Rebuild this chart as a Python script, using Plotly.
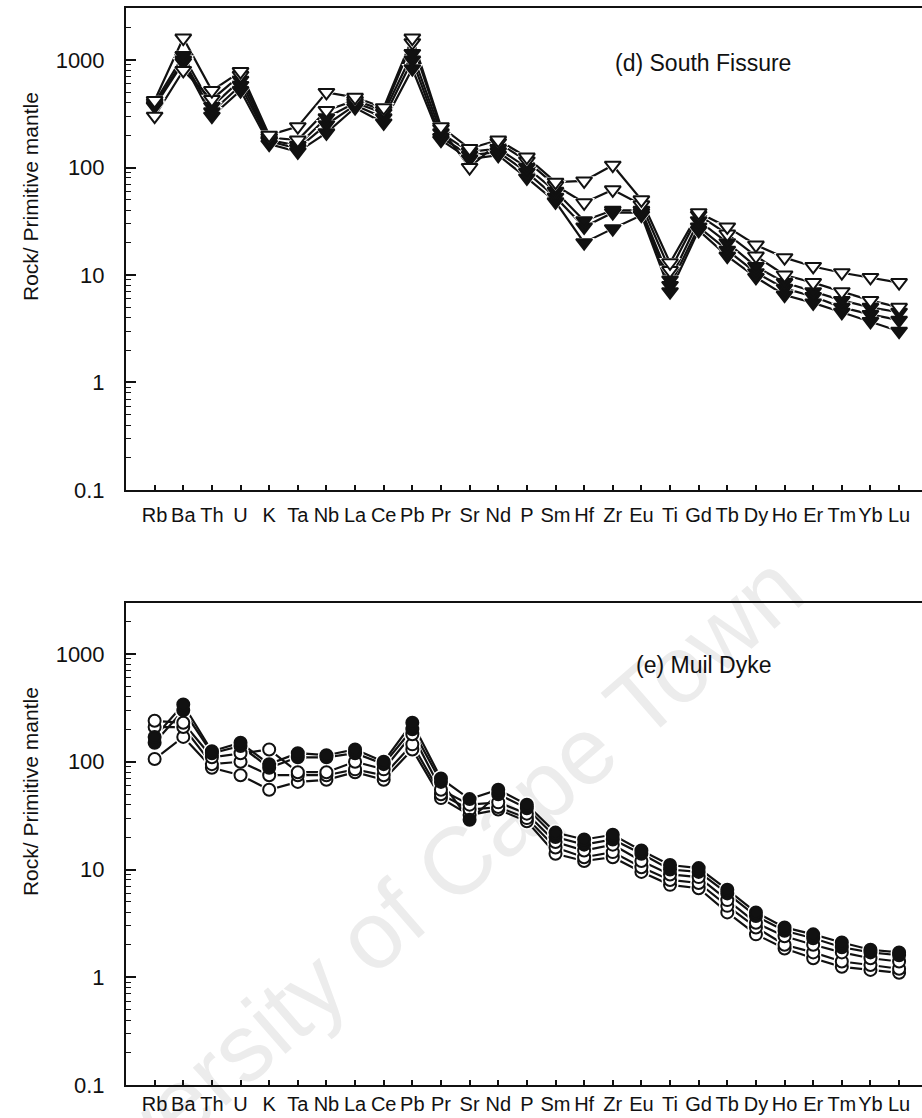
import plotly.graph_objects as go

elements = ["Rb", "Ba", "Th", "U", "K", "Ta", "Nb", "La", "Ce", "Pb", "Pr", "Sr", "Nd", "P", "Sm",
            "Hf", "Zr", "Eu", "Ti", "Gd", "Tb", "Dy", "Ho", "Er", "Tm", "Yb", "Lu"]
xpos = list(range(1, len(elements) + 1))

# (d) South Fissure  -- open triangles
sf_jjg3150 = [420, 1600, 520, 780, 200, 240, 500, 450, 360, 1600, 240, 150, 180, 125, 73,
              75, 105, 50, 13, 38, 28, 19, 14.5, 12, 10.5, 9.5, 8.5]
sf_open2 = [300, 800, 430, 720, 190, 180, 340, 420, 340, 1450, 230, 100, 170, 115, 68,
            47, 62, 45, 11, 36, 24, 15, 10, 8.5, 7, 5.8, 5]
# filled triangles
sf_fill1 = [400, 1100, 370, 650, 180, 160, 290, 400, 320, 1150, 210, 140, 150, 100, 60,
            32, 40, 40, 9, 32, 20, 12, 8.5, 7, 5.8, 5, 4.5]
sf_fill2 = [380, 1000, 330, 580, 175, 150, 250, 380, 290, 1000, 190, 130, 140, 90, 53,
            28, 38, 38, 8, 28, 17, 10.5, 7.5, 6.3, 5, 4.3, 3.8]
sf_fill3 = [370, 950, 300, 520, 165, 140, 210, 360, 260, 830, 180, 120, 130, 80, 48,
            20, 27, 36, 7, 26, 15, 9.5, 6.5, 5.5, 4.5, 3.7, 3.0]

# (e) Muil Dyke -- filled circles
md_fill1 = [170, 340, 125, 150, 95, 120, 115, 130, 100, 230, 70, 45, 55, 40, 22,
            19, 21, 15, 11, 10.3, 6.5, 4.0, 2.9, 2.5, 2.1, 1.8, 1.7]
md_fill2 = [150, 300, 120, 140, 88, 110, 110, 120, 95, 200, 65, 29, 50, 37, 20,
            17, 19, 14, 10, 9.5, 6.0, 3.7, 2.7, 2.3, 1.9, 1.7, 1.6]
# open circles
md_open1 = [240, 230, 110, 120, 130, 80, 80, 100, 85, 180, 55, 40, 42, 33, 18,
            15, 17, 12, 9, 8.5, 5.2, 3.2, 2.4, 2.0, 1.7, 1.5, 1.4]
md_open2 = [210, 210, 95, 100, 75, 75, 75, 85, 75, 145, 50, 36, 38, 30, 16,
            13, 14.5, 10.5, 8, 7.5, 4.6, 2.9, 2.0, 1.7, 1.4, 1.3, 1.2]
md_open3 = [106, 170, 88, 75, 55, 65, 68, 80, 68, 130, 46, 32, 36, 28, 14,
            12, 13, 9.5, 7.2, 6.7, 4.0, 2.5, 1.85, 1.5, 1.25, 1.17, 1.1]

ytickvals = [0.1, 1, 10, 100, 1000]
yticktext = ["0.1", "1", "10", "100", "1000"]
major_x = [5, 10, 15, 20, 25]

FONT = "Liberation Sans, Arial, sans-serif"
BLACK = "#111111"

fig = go.Figure()

# faint watermark behind everything
fig.add_shape(type="line", xref="paper", yref="paper",
              x0=0.054, y0=-0.0121, x1=0.6243, y1=0.3519,
              line=dict(color="rgba(0,0,0,0)", width=0), layer="below",
              label=dict(text="University of Cape Town", textangle=-41,
                         textposition="middle", yanchor="middle", padding=0,
                         font=dict(family=FONT, size=95, color="#ececec")))


def add_panel(series, xa, ya, symbol, size):
    # lines
    for y, filled in series:
        fig.add_trace(go.Scatter(
            x=xpos, y=y, xaxis=xa, yaxis=ya, mode="lines",
            line=dict(color=BLACK, width=2.2),
            showlegend=False, hoverinfo="skip"))
    # white halos that break the lines near the symbols
    for y, filled in series:
        fig.add_trace(go.Scatter(
            x=xpos, y=y, xaxis=xa, yaxis=ya, mode="markers",
            marker=dict(symbol=symbol, size=size + 5, color="white",
                        line=dict(width=0)),
            showlegend=False, hoverinfo="skip"))
    # symbols
    for y, filled in series:
        fig.add_trace(go.Scatter(
            x=xpos, y=y, xaxis=xa, yaxis=ya, mode="markers",
            marker=dict(symbol=symbol, size=size,
                        color=BLACK if filled else "white",
                        line=dict(color=BLACK, width=2)),
            showlegend=False, hoverinfo="skip"))


add_panel([(sf_fill3, True), (sf_fill2, True), (sf_fill1, True),
           (sf_open2, False), (sf_jjg3150, False)], "x", "y", "triangle-down", 14)
add_panel([(md_open3, False), (md_open2, False), (md_open1, False),
           (md_fill2, True), (md_fill1, True)], "x2", "y2", "circle", 12)

minor_vals = []
for e in range(-1, 4):
    for m in range(2, 10):
        minor_vals.append(m * 10 ** e)

XR = [0, 27.8]

xbase = dict(range=XR, tickmode="array", tickvals=xpos, ticktext=elements,
             tickangle=0, automargin=False,
             ticks="inside", ticklen=5, tickwidth=1.5, tickcolor=BLACK,
             showline=True, linecolor=BLACK, linewidth=2, mirror=True,
             showgrid=False, zeroline=False, ticklabelstandoff=6,
             tickfont=dict(family=FONT, size=20, color=BLACK))
ybase = dict(type="log", range=[-1, 3.484], tickmode="array", tickvals=ytickvals,
             ticktext=yticktext, ticks="inside", ticklen=10, tickwidth=1.5,
             automargin=False,
             tickcolor=BLACK, showline=True, linecolor=BLACK, linewidth=2,
             showgrid=False, zeroline=False, ticklabelstandoff=15,
             tickfont=dict(family=FONT, size=22, color=BLACK),
             minor=dict(tickmode="array", tickvals=minor_vals, ticks="inside",
                        ticklen=5, tickwidth=1.2, tickcolor=BLACK, showgrid=False))
xmajor = dict(range=XR, tickmode="array", tickvals=major_x, showticklabels=False,
              automargin=False,
              ticks="inside", ticklen=10, tickwidth=1.5, tickcolor=BLACK,
              showline=False, showgrid=False, zeroline=False)

fig.update_layout(
    width=922, height=1118,
    margin=dict(l=126, r=0, t=8, b=33, autoexpand=False),
    paper_bgcolor="white", plot_bgcolor="rgba(0,0,0,0)",
    font=dict(family=FONT, color=BLACK),
    xaxis=dict(**xbase, domain=[0, 1], anchor="y"),
    yaxis=dict(**ybase, domain=[0.5525, 1.0], anchor="x"),
    xaxis2=dict(**dict(xbase, ticklabelstandoff=0), domain=[0, 1], anchor="y2"),
    yaxis2=dict(**dict(ybase, range=[-1, 3.473]), domain=[0.0, 0.4475], anchor="x2"),
    xaxis3=dict(**xmajor, overlaying="x", anchor="y", side="bottom"),
    xaxis4=dict(**xmajor, overlaying="x2", anchor="y2", side="bottom"),
)

annotations = [
    dict(text="Rock/ Primitive mantle", xref="paper", yref="paper", x=-0.1206, y=0.8245,
         textangle=-90, showarrow=False, font=dict(family=FONT, size=21, color=BLACK),
         xanchor="center", yanchor="middle"),
    dict(text="Rock/ Primitive mantle", xref="paper", yref="paper", x=-0.1206, y=0.272,
         textangle=-90, showarrow=False, font=dict(family=FONT, size=21, color=BLACK),
         xanchor="center", yanchor="middle"),
    dict(text="(d) South Fissure", xref="paper", yref="paper", x=0.7249, y=0.949,
         showarrow=False, font=dict(family=FONT, size=23, color=BLACK),
         xanchor="center", yanchor="middle"),
    dict(text="(e) Muil Dyke", xref="paper", yref="paper", x=0.7249, y=0.39,
         showarrow=False, font=dict(family=FONT, size=23, color=BLACK),
         xanchor="center", yanchor="middle"),
    dict(text="<b>JJG 3150</b>", xref="x", yref="y", x=17.62, y=73, ax=25, ay=-40,
         showarrow=True, arrowhead=2, arrowsize=1, arrowwidth=1.8, arrowcolor=BLACK,
         font=dict(family=FONT, size=15, color=BLACK)),
    dict(text="<b>JJG 3150</b>", xref="x", yref="y", x=25.47, y=10, ax=24, ay=-51,
         showarrow=True, arrowhead=2, arrowsize=1, arrowwidth=1.8, arrowcolor=BLACK,
         font=dict(family=FONT, size=15, color=BLACK)),
]
fig.update_layout(annotations=annotations)

fig.write_html("out.html")
